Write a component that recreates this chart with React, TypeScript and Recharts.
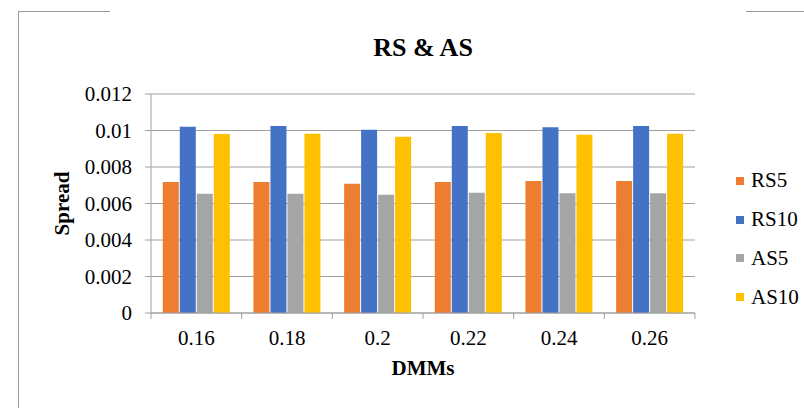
import React from 'react';
import { BarChart, Bar, XAxis, YAxis, CartesianGrid, Legend, Label } from 'recharts';

const categories = ['0.16', '0.18', '0.2', '0.22', '0.24', '0.26'];
const rs5 = [0.00718, 0.00718, 0.00708, 0.00718, 0.00723, 0.00723];
const rs10 = [0.01021, 0.01025, 0.01004, 0.01025, 0.01018, 0.01025];
const as5 = [0.00654, 0.00654, 0.00648, 0.00659, 0.00656, 0.00656];
const as10 = [0.00981, 0.00982, 0.00966, 0.00986, 0.00977, 0.00982];
const yTicks = [0, 0.002, 0.004, 0.006, 0.008, 0.01, 0.012];
const seriesOrder = ['RS5', 'RS10', 'AS5', 'AS10'];

const data = categories.map((c, i) => ({
  cat: c,
  RS5: rs5[i],
  RS10: rs10[i],
  AS5: as5[i],
  AS10: as10[i],
}));

const W = 804;
const H = 408;
const PLOT_LEFT = 151;
const PLOT_RIGHT = 695;
const PLOT_TOP = 94;
const PLOT_BOTTOM = 313;
const Y_AXIS_W = 100;
const X_AXIS_H = 60;
const BAND = (PLOT_RIGHT - PLOT_LEFT) / categories.length;
const FONT = '"Liberation Serif", "Times New Roman", "DejaVu Serif", serif';
const AXIS_COLOR = '#A0A0A0';

const XTick = (props: any) => {
  const { x, y, payload, index } = props;
  const isLast = index === categories.length - 1;
  return (
    <g>
      <line x1={x - BAND / 2} y1={y} x2={x - BAND / 2} y2={y + 6} stroke={AXIS_COLOR} strokeWidth={1} />
      {isLast && (
        <line x1={x + BAND / 2} y1={y} x2={x + BAND / 2} y2={y + 6} stroke={AXIS_COLOR} strokeWidth={1} />
      )}
      <text x={x} y={y + 32} textAnchor="middle" style={{ fontFamily: FONT }} fontSize={21} fill="#000">
        {payload.value}
      </text>
    </g>
  );
};

const LegendContent = (props: any) => {
  const { payload } = props;
  const items = [...(payload || [])].sort(
    (a: any, b: any) => seriesOrder.indexOf(a.value) - seriesOrder.indexOf(b.value)
  );
  return (
    <div style={{ fontFamily: FONT, fontSize: 21, color: '#000' }}>
      {items.map((p: any) => (
        <div key={p.value} style={{ height: 38.7, display: 'flex', alignItems: 'center' }}>
          <span style={{ display: 'inline-block', width: 8, height: 8, background: p.color, marginRight: 7 }} />
          <span style={{ lineHeight: 1 }}>{p.value}</span>
        </div>
      ))}
    </div>
  );
};

export default function App() {
  return (
    <div style={{ position: 'absolute', left: 0, top: 0, width: W, height: H, background: '#fff', overflow: 'hidden' }}>
      <div style={{ position: 'absolute', left: 18, top: 11, width: 92, height: 0, borderTop: '1px solid #9a9a9a' }} />
      <div style={{ position: 'absolute', left: 18, top: 11, width: 0, height: H - 11, borderLeft: '1px solid #9a9a9a' }} />
      <div style={{ position: 'absolute', left: 746, top: 11, width: W - 746, height: 0, borderTop: '1px solid #9a9a9a' }} />
      <div
        style={{
          position: 'absolute',
          left: PLOT_LEFT,
          width: PLOT_RIGHT - PLOT_LEFT,
          top: 35,
          textAlign: 'center',
          fontFamily: FONT,
          fontWeight: 'bold',
          fontSize: 26,
          lineHeight: 1,
          color: '#000',
        }}
      >
        RS &amp; AS
      </div>
      <div style={{ position: 'absolute', left: 0, top: 0 }}>
        <BarChart
          width={W}
          height={H}
          data={data}
          margin={{
            top: PLOT_TOP,
            right: W - PLOT_RIGHT,
            bottom: H - PLOT_BOTTOM - X_AXIS_H,
            left: PLOT_LEFT - Y_AXIS_W,
          }}
          barCategoryGap="13%"
          barGap={1}
        >
          <CartesianGrid horizontal vertical={false} stroke={AXIS_COLOR} strokeWidth={1} />
          <XAxis
            dataKey="cat"
            height={X_AXIS_H}
            axisLine={{ stroke: AXIS_COLOR, strokeWidth: 1 }}
            tickLine={false}
            tickSize={0}
            tickMargin={0}
            tick={<XTick />}
            interval={0}
          >
            <Label
              content={(p: any) => {
                const vb = p.viewBox;
                return (
                  <text x={vb.x + vb.width / 2} y={vb.y + 62} textAnchor="middle" style={{ fontFamily: FONT }} fontWeight="bold" fontSize={21} fill="#000">
                    DMMs
                  </text>
                );
              }}
            />
          </XAxis>
          <YAxis
            width={Y_AXIS_W}
            domain={[0, 0.012]}
            ticks={yTicks}
            interval={0}
            axisLine={{ stroke: AXIS_COLOR, strokeWidth: 1 }}
            tickLine={{ stroke: AXIS_COLOR, strokeWidth: 1 }}
            tickSize={6}
            tickMargin={13}
            tick={{ fontSize: 21, fill: '#000', style: { fontFamily: FONT } }}
          >
            <Label
              content={(p: any) => {
                const vb = p.viewBox;
                const cx = vb.x + 18;
                const cy = vb.y + vb.height / 2;
                return (
                  <text x={cx} y={cy} transform={`rotate(-90 ${cx} ${cy})`} textAnchor="middle" style={{ fontFamily: FONT }} fontWeight="bold" fontSize={21} fill="#000">
                    Spread
                  </text>
                );
              }}
            />
          </YAxis>
          <Legend
            layout="vertical"
            align="center"
            verticalAlign="middle"
            content={<LegendContent />}
            wrapperStyle={{ left: 736, top: 161.6, width: 70, height: 160 }}
          />
          <Bar dataKey="RS5" name="RS5" fill="#ED7D31" isAnimationActive={false} />
          <Bar dataKey="RS10" name="RS10" fill="#4472C4" isAnimationActive={false} />
          <Bar dataKey="AS5" name="AS5" fill="#A5A5A5" isAnimationActive={false} />
          <Bar dataKey="AS10" name="AS10" fill="#FFC000" isAnimationActive={false} />
        </BarChart>
      </div>
    </div>
  );
}
